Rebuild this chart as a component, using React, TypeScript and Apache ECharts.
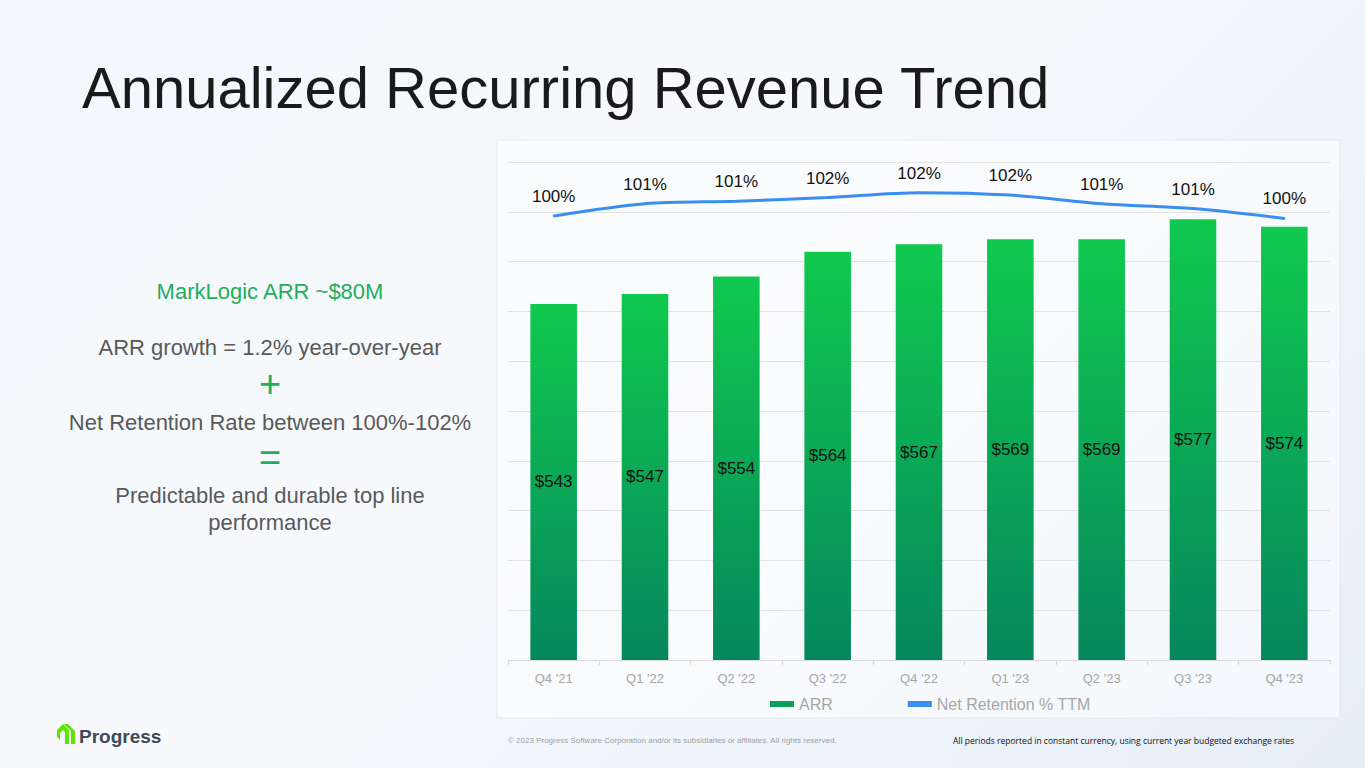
import { useEffect, useRef } from "react";
import * as echarts from "echarts";

const quarters = ["Q4 '21", "Q1 '22", "Q2 '22", "Q3 '22", "Q4 '22", "Q1 '23", "Q2 '23", "Q3 '23", "Q4 '23"];
const arrValues = [543, 547, 554, 564, 567, 569, 569, 577, 574];
const retention = [100.2, 101.2, 101.4, 101.7, 102.1, 101.9, 101.2, 100.8, 100.0];
const retentionLabels = ["100%", "101%", "101%", "102%", "102%", "102%", "101%", "101%", "100%"];

const LOGO = "M0 6 L6 0 L12 6 L12 20 L8 20 L8 8 L6 6 L3 9 L3 16 L0 13 Z M7 0 L11 0 L18 7 L18 20 L14 20 L14 7 Z";
echarts.graphic.registerShape("logo", echarts.graphic.extendPath(LOGO, {}) as any);

export default function App() {
    const chartRef = useRef<HTMLDivElement | null>(null);

    useEffect(() => {
        if (!chartRef.current) return;
        const chart = echarts.init(chartRef.current, null, { renderer: "svg" });
        const font = "'Liberation Sans', Arial, sans-serif";
        const grey = "#595959";

        const option: any = {
            animation: false,
            textStyle: { fontFamily: font },
            graphic: [
                {
                    type: "rect", shape: { x: 497, y: 140, width: 843, height: 578 },
                    style: { fill: "rgba(255,255,255,0.55)", stroke: "#e3e8ee", lineWidth: 1 }, z: -10,
                },
                { type: "text", left: 82, top: 58, style: { text: "Annualized Recurring Revenue Trend", font: `58px ${font}`, fill: "#1a1a1a" } },
                { type: "text", x: 270, y: 291, style: { text: "MarkLogic ARR ~$80M", font: `22px ${font}`, fill: "#1fae5b", align: "center", verticalAlign: "middle" } },
                { type: "text", x: 270, y: 347, style: { text: "ARR growth = 1.2% year-over-year", font: `22px ${font}`, fill: grey, align: "center", verticalAlign: "middle" } },
                { type: "text", x: 270, y: 384, style: { text: "+", font: `38px ${font}`, fill: "#1fae5b", align: "center", verticalAlign: "middle" } },
                { type: "text", x: 270, y: 422, style: { text: "Net Retention Rate between 100%-102%", font: `22px ${font}`, fill: grey, align: "center", verticalAlign: "middle" } },
                { type: "text", x: 270, y: 458, style: { text: "=", font: `38px ${font}`, fill: "#1fae5b", align: "center", verticalAlign: "middle" } },
                { type: "text", x: 270, y: 509, style: { text: "Predictable and durable top line\nperformance", font: `22px ${font}`, lineHeight: 27, fill: grey, align: "center", verticalAlign: "middle" } },
                { type: "logo", x: 57, y: 724, scaleX: 1, scaleY: 1, style: { fill: "#5ce500" } },
                { type: "text", x: 79, y: 736, style: { text: "Progress", font: `bold 19px ${font}`, fill: "#3d4a57", verticalAlign: "middle" } },
                { type: "text", x: 508, y: 740, style: { text: "© 2023 Progress Software Corporation and/or its subsidiaries or affiliates. All rights reserved.", font: `8px ${font}`, fill: "#9aa0a6", verticalAlign: "middle" } },
                { type: "text", x: 953, y: 740, style: { text: "All periods reported in constant currency, using current year budgeted exchange rates", font: `8.5px 'Open Sans', sans-serif`, fill: "#111", verticalAlign: "middle" } },
            ],
            legend: {
                top: 691, left: 765, itemGap: 75, itemWidth: 24, itemHeight: 6,
                textStyle: { color: "#a6a6a6", fontSize: 16, fontFamily: font },
                data: [
                    { name: "ARR", icon: "rect", itemStyle: { color: "#0a9e58" } },
                    { name: "Net Retention % TTM", icon: "rect", itemStyle: { color: "#3a8ef0" } },
                ],
            },
            grid: { left: 508, right: 35, top: 162, bottom: 108 },
            xAxis: {
                type: "category", data: quarters,
                axisLine: { lineStyle: { color: "#d9d9d9" } },
                axisTick: { show: true, lineStyle: { color: "#d9d9d9" } },
                axisLabel: { color: "#a6a6a6", fontSize: 13, margin: 12 },
            },
            yAxis: [
                {
                    type: "value", min: 400, max: 600, interval: 20,
                    axisLabel: { show: false },
                    splitLine: { lineStyle: { color: "#e3e3e3" } },
                },
                { type: "value", min: 64, max: 104.6, show: false, splitLine: { show: false } },
            ],
            series: [
                {
                    name: "ARR", type: "bar", data: arrValues, barWidth: "51%",
                    itemStyle: {
                        color: new echarts.graphic.LinearGradient(0, 0, 0, 1, [
                            { offset: 0, color: "#10c94e" },
                            { offset: 1, color: "#05875d" },
                        ]),
                    },
                    label: { show: true, position: "inside", formatter: "${c}", color: "#111", fontSize: 17 },
                },
                {
                    name: "Net Retention % TTM", type: "line", yAxisIndex: 1, data: retention,
                    symbol: "circle", symbolSize: 2, showSymbol: true, smooth: 0.3,
                    lineStyle: { color: "#3a8ef0", width: 3 },
                    itemStyle: { color: "#3a8ef0" },
                    label: {
                        show: true, position: "top", distance: 10, color: "#111", fontSize: 17,
                        formatter: (p: any) => retentionLabels[p.dataIndex],
                    },
                },
            ],
        };
        chart.setOption(option);
        return () => chart.dispose();
    }, []);

    return (
        <div style={{ position: "fixed", left: 0, top: 0, width: 1365, height: 768, background: "linear-gradient(135deg, #f3f7fb 0%, #f7f9fc 45%, #e6eef8 100%)" }}>
            <div ref={chartRef} style={{ width: 1365, height: 768 }} />
        </div>
    );
}
